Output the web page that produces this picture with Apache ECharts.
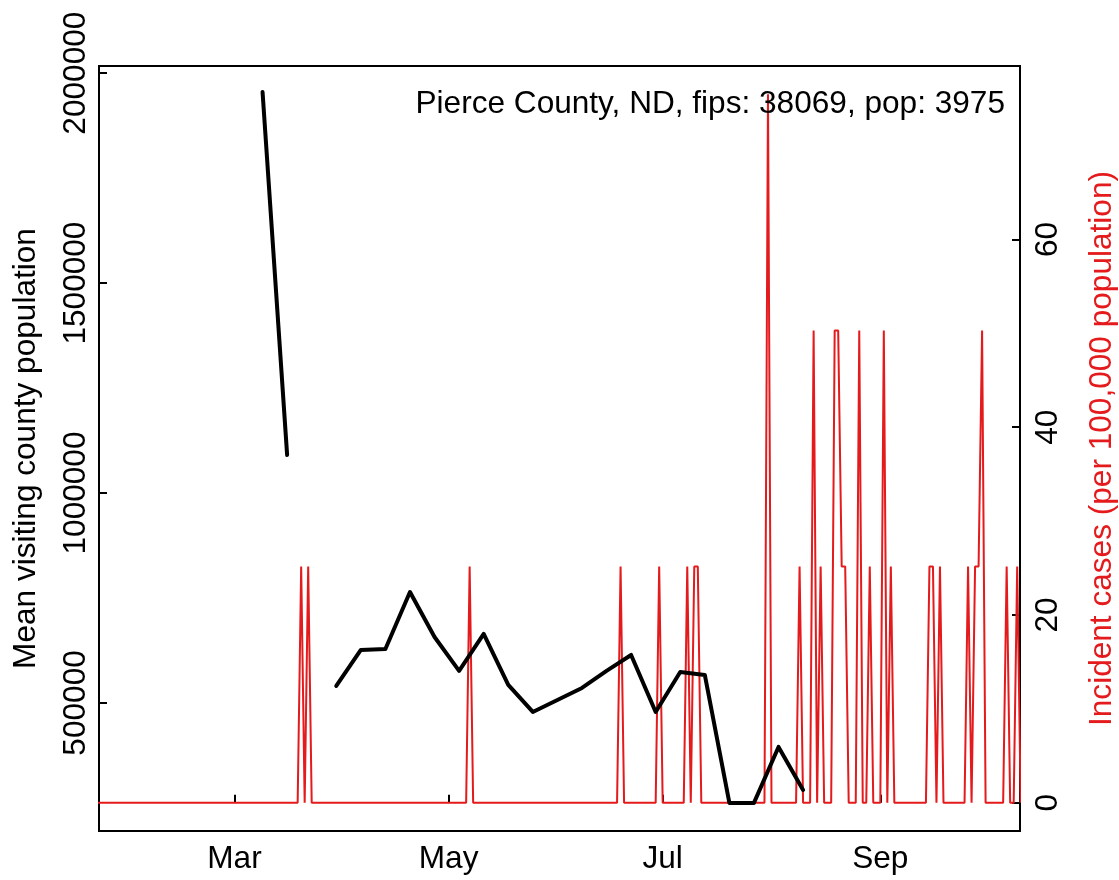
<!DOCTYPE html>
<html><head><meta charset="utf-8">
<script src="https://cdn.jsdelivr.net/npm/echarts@6/dist/echarts.min.js"></script>
<style>html,body{margin:0;padding:0;background:#fff}#c{width:1119px;height:880px}</style>
</head><body><div id="c"></div>
<script>
const chartTitle = 'Pierce County, ND, fips: 38069, pop: 3975';
const leftAxisName = 'Mean visiting county population';
const rightAxisName = 'Incident cases (per 100,000 population)';

// daily incident cases per 100,000, one value per day starting 2020-01-22
const caseStartDate = '2020-01-22';
const incidence = [
  0,0,0,0,0,0,0,0,0,0,
  0,0,0,0,0,0,0,0,0,0,
  0,0,0,0,0,0,0,0,0,0,
  0,0,0,0,0,0,0,0,0,0,
  0,0,0,0,0,0,0,0,0,0,
  0,0,0,0,0,0,0,0,25.16,0,
  25.16,0,0,0,0,0,0,0,0,0,
  0,0,0,0,0,0,0,0,0,0,
  0,0,0,0,0,0,0,0,0,0,
  0,0,0,0,0,0,0,0,0,0,
  0,0,0,0,0,0,25.16,0,0,0,
  0,0,0,0,0,0,0,0,0,0,
  0,0,0,0,0,0,0,0,0,0,
  0,0,0,0,0,0,0,0,0,0,
  0,0,0,0,0,0,0,0,0,25.16,
  0,0,0,0,0,0,0,0,0,0,
  25.16,0,0,0,0,0,0,0,25.16,0,
  25.16,25.16,0,0,0,0,0,0,0,0,
  0,0,0,0,0,0,0,0,0,0,
  0,75.47,0,0,0,0,0,0,0,0,
  25.16,0,0,0,50.31,0,25.16,0,0,0,
  50.31,50.31,25.16,25.16,0,0,0,50.31,0,0,
  25.16,0,0,0,50.31,0,25.16,0,0,0,
  0,0,0,0,0,0,0,25.16,25.16,0,
  25.16,0,0,0,0,0,0,0,25.16,0,
  25.16,25.16,50.31,0,0,0,0,0,0,25.16,
  0,0,25.16,0
];

// weekly mean visiting county population
const visitDates = ['2020-03-09','2020-03-16','2020-03-23','2020-03-30','2020-04-06','2020-04-13',
  '2020-04-20','2020-04-27','2020-05-04','2020-05-11','2020-05-18','2020-05-25','2020-06-01',
  '2020-06-08','2020-06-15','2020-06-22','2020-06-29','2020-07-06','2020-07-13','2020-07-20',
  '2020-07-27','2020-08-03','2020-08-10'];
const visitValues = [1954800,1090500,null,540400,626200,628500,
  764300,657100,576200,664300,542800,478500,507100,
  535700,576200,614300,478500,573800,566700,261900,
  261900,395200,292800];

const xTickDates = ['2020-03-01','2020-05-01','2020-07-01','2020-09-01'];
const xTickLabels = ['Mar','May','Jul','Sep'];
const leftTicks = [500000,1000000,1500000,2000000];
const rightTicks = [0,20,40,60];

const DAY = 86400000;
function utc(s){ const p = s.split('-').map(Number); return Date.UTC(p[0], p[1]-1, p[2]); }
function dayNum(s){ return Math.round((utc(s) - utc(caseStartDate)) / DAY); }

const caseData = incidence.map((v,i)=>[i, v]);
const visitData = visitDates.map((d,i)=>[dayNum(d), visitValues[i]]);
const xTickDays = xTickDates.map(dayNum);

const FONT = 'Liberation Sans';
const FS = 31.6;

const chart = echarts.init(document.getElementById('c'), null, {renderer:'canvas'});
chart.setOption({
  animation: false,
  backgroundColor: '#fff',
  title: {
    text: chartTitle, right: 114, top: 88, padding: 0,
    textStyle: {fontFamily: FONT, fontSize: FS, fontWeight: 'normal', color: '#000'}
  },
  grid: {left: 99, right: 99, top: 66, bottom: 49, outerBoundsMode: 'none', containLabel: false,
    show: true, borderColor: '#000', borderWidth: 2, backgroundColor: 'transparent'},
  xAxis: {
    type: 'value',
    min: 0.4, max: 262.8,
    axisLine: {show: false},
    splitLine: {show: false},
    axisTick: {show: true, inside: true, length: 8, customValues: xTickDays, lineStyle: {color: '#000', width: 2}},
    axisLabel: {
      customValues: xTickDays, fontFamily: FONT, fontSize: FS, color: '#000', margin: 12,
      formatter: function(v){ const i = xTickDays.indexOf(Math.round(v)); return i >= 0 ? xTickLabels[i] : ''; }
    }
  },
  yAxis: [{
    type: 'value', position: 'left',
    min: 195000, max: 2017000,
    axisLine: {show: false}, splitLine: {show: false},
    axisTick: {show: true, inside: true, length: 8, customValues: leftTicks, lineStyle: {color: '#000', width: 2}},
    axisLabel: {customValues: leftTicks, rotate: 90, fontFamily: FONT, fontSize: FS, color: '#000', margin: 7,
      formatter: function(v){ return String(v); }},
    name: leftAxisName, nameLocation: 'middle', nameGap: 57, nameRotate: 90,
    nameTextStyle: {fontFamily: FONT, fontSize: FS, color: '#000'}
  }, {
    type: 'value', position: 'right',
    min: -3.019, max: 78.49,
    axisLine: {show: false}, splitLine: {show: false},
    axisTick: {show: true, inside: true, length: 8, customValues: rightTicks, lineStyle: {color: '#000', width: 2}},
    axisLabel: {customValues: rightTicks, rotate: 90, fontFamily: FONT, fontSize: FS, color: '#000', margin: 12,
      formatter: function(v){ return String(v); }},
    name: rightAxisName, nameLocation: 'middle', nameGap: 66, nameRotate: 90,
    nameTextStyle: {fontFamily: FONT, fontSize: FS, color: '#e41a1c'}
  }],
  series: [{
    type: 'line', yAxisIndex: 1, data: caseData, showSymbol: false, z: 2,
    lineStyle: {color: '#e41a1c', width: 2}, clip: true
  }, {
    type: 'line', yAxisIndex: 0, data: visitData, showSymbol: false, z: 3, connectNulls: false,
    lineStyle: {color: '#000', width: 4, join: 'round', cap: 'round'}, clip: true
  }]
});
</script>
</body></html>
